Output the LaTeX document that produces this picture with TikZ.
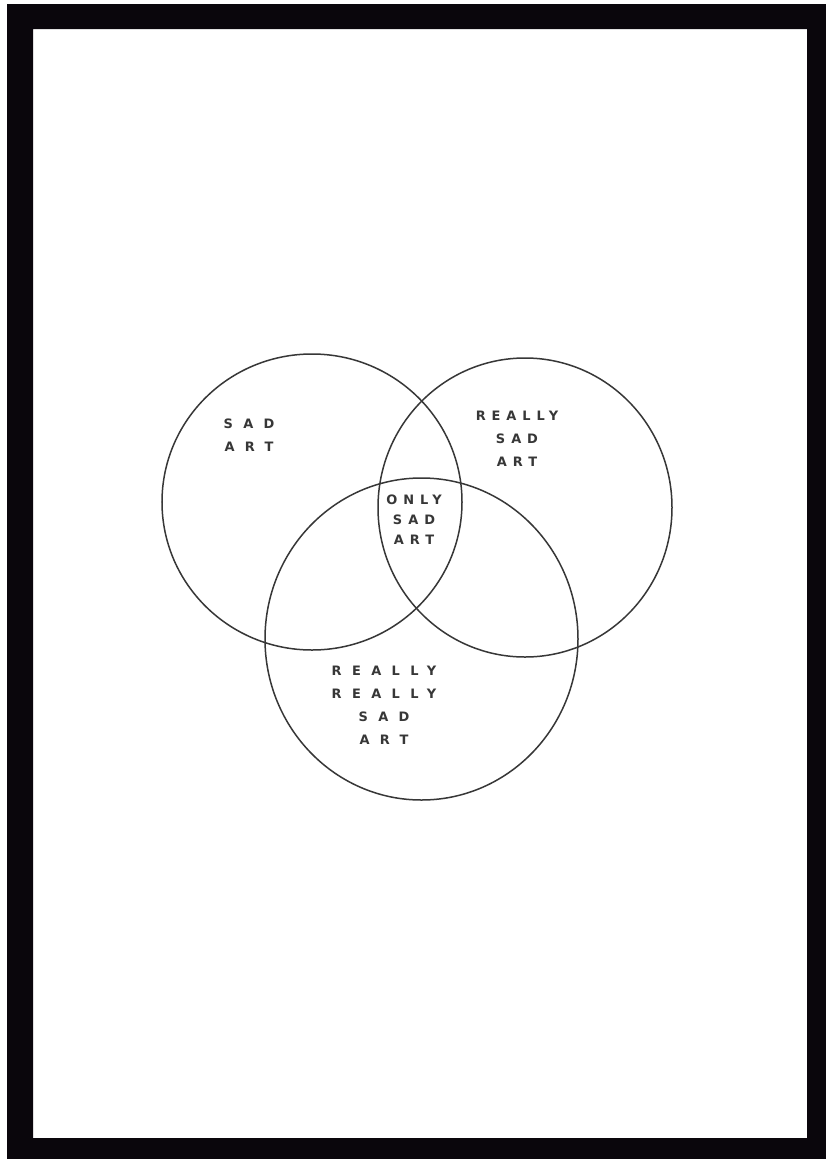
\documentclass[tikz,border=0pt]{standalone}
\usepackage{fontspec}
\newfontfamily\handfont[LetterSpace=80]{DejaVu Sans}
\newfontfamily\handfontnarrow[LetterSpace=46]{DejaVu Sans}
\usetikzlibrary{positioning,shapes.geometric}
\definecolor{FrameBlack}{RGB}{10,6,12}
\definecolor{InkGray}{RGB}{55,55,55}

\begin{document}
\begin{tikzpicture}[x=1bp,y=-1bp,
    ring/.style={ellipse,draw=InkGray,line width=1.5bp,inner sep=0pt},
    word/.style={align=center,text=InkGray,font=\handfont\bfseries\fontsize{13}{23}\selectfont},
    narrowword/.style={word,font=\handfontnarrow\bfseries\fontsize{13}{23}\selectfont}]
  \useasboundingbox (0,0) rectangle (826,1159);
  \fill[white] (0,0) rectangle (826,1159);
  \fill[FrameBlack,even odd rule] (7,4) rectangle (826,1159) (33,29) rectangle (807,1138);
  % the three sets
  \node[ring,minimum width=300bp,minimum height=296bp] (sad) at (312,502) {};
  \node[ring,minimum width=294bp,minimum height=299bp] (really) at (525,507.5) {};
  \node[ring,minimum width=313bp,minimum height=322bp] (reallyreally) at (421.5,639) {};
  % labels
  \node[word] (sadlbl) at (249,435) {SAD\\ART};
  \node[narrowword] (reallylbl) at (517,439) {REALLY\\SAD\\ART};
  \node[narrowword,font=\handfontnarrow\bfseries\fontsize{13}{20}\selectfont] (onlylbl) at (414,520) {ONLY\\SAD\\ART};
  \node[word] (reallyreallylbl) at (384,705) {REALLY\\REALLY\\SAD\\ART};
\end{tikzpicture}
\end{document}
